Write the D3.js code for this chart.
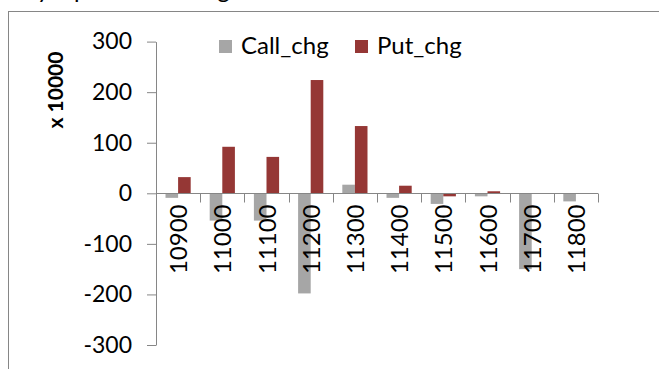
<!DOCTYPE html>
<html><head><meta charset="utf-8">
<script src="https://cdn.jsdelivr.net/npm/d3@7"></script>
<style>body{margin:0;background:#fff}svg{display:block}text{font-family:Lato,"Open Sans",sans-serif;fill:#000}</style>
</head><body><svg id="c" width="659" height="369"></svg>
<script>
const categories = ["10900","11000","11100","11200","11300","11400","11500","11600","11700","11800"];
const seriesNames = ["Call_chg","Put_chg"];
const callValues = [-9,-54,-54,-198,17,-9,-21,-6,-150,-16];
const putValues = [32,92,72,224,133,15,-6,4,0,0];
const yTicks = [-300,-200,-100,0,100,200,300];
const colors = ["#A6A6A6","#953735"];
const yLabel = "x 10000";
const title = "Daily Option OI change";

const svg = d3.select("#c");
const axisColor = "#868686";
// outer chart border
svg.append("rect").attr("x",8.5).attr("y",11.5).attr("width",700).attr("height",400)
  .attr("fill","none").attr("stroke",axisColor);

// title (cut off at top, as in the reference)
const t = svg.append("text").attr("y",-2).attr("font-size",24).text(title);
const probe = svg.append("text").attr("font-size",24).text("Dail");
const pw = probe.node().getComputedTextLength(); probe.remove();
t.attr("x", 37 - pw);

const L = 156, R = 598;
const y = d3.scaleLinear().domain([-300,300]).range([345,41.6]);
const x0 = d3.scaleBand().domain(categories).range([L,R]).paddingInner(0.43).paddingOuter(0.215);
const x1 = d3.scaleBand().domain(seriesNames).range([0,x0.bandwidth()]);

// y axis
const ya = svg.append("g").attr("transform",`translate(${L},0)`)
  .call(d3.axisLeft(y).tickValues(yTicks).tickFormat(d=>String(d)).tickSize(9).tickSizeOuter(0).tickPadding(15));
ya.selectAll("path,line").attr("stroke",axisColor);
ya.selectAll("text").attr("font-size",23).style("font-family","Lato");

// bars
const data = categories.map((c,i)=>({cat:c, vals:[{k:seriesNames[0],v:callValues[i]},{k:seriesNames[1],v:putValues[i]}]}));
const g = svg.append("g");
g.selectAll("g").data(data).join("g").attr("transform",d=>`translate(${x0(d.cat)},0)`)
  .selectAll("rect").data(d=>d.vals).join("rect")
  .attr("x",d=>x1(d.k)).attr("width",x1.bandwidth())
  .attr("y",d=>y(Math.max(0,d.v))).attr("height",d=>Math.abs(y(d.v)-y(0)))
  .attr("fill",(d,i)=>colors[i]);

// x axis at zero
const y0 = Math.round(y(0))+0.5;
const xa = svg.append("g");
xa.append("line").attr("x1",L).attr("x2",R).attr("y1",y0).attr("y2",y0).attr("stroke",axisColor);
const bounds = d3.range(categories.length+1).map(i=>L+i*x0.step());
xa.selectAll("line.tk").data(bounds).join("line").attr("class","tk")
  .attr("x1",d=>Math.round(d)+0.5).attr("x2",d=>Math.round(d)+0.5).attr("y1",y0).attr("y2",y0+9).attr("stroke",axisColor);
xa.selectAll("text").data(categories).join("text")
  .attr("transform",d=>`translate(${x0(d)+x0.bandwidth()/2+9},${y0+11}) rotate(-90)`)
  .attr("text-anchor","end").attr("font-size",24).text(d=>d);

// y label
svg.append("text").attr("transform","translate(63,90) rotate(-90)").attr("text-anchor","middle")
  .attr("font-size",21).attr("font-weight","bold").text(yLabel);

// legend
const leg = [{x:219,name:seriesNames[0],c:colors[0]},{x:355,name:seriesNames[1],c:colors[1]}];
const lg = svg.append("g");
lg.selectAll("rect").data(leg).join("rect").attr("x",d=>d.x).attr("y",40).attr("width",13).attr("height",13).attr("fill",d=>d.c);
lg.selectAll("text").data(leg).join("text").attr("x",d=>d.x+22).attr("y",54).attr("font-size",24).text(d=>d.name);
</script></body></html>
